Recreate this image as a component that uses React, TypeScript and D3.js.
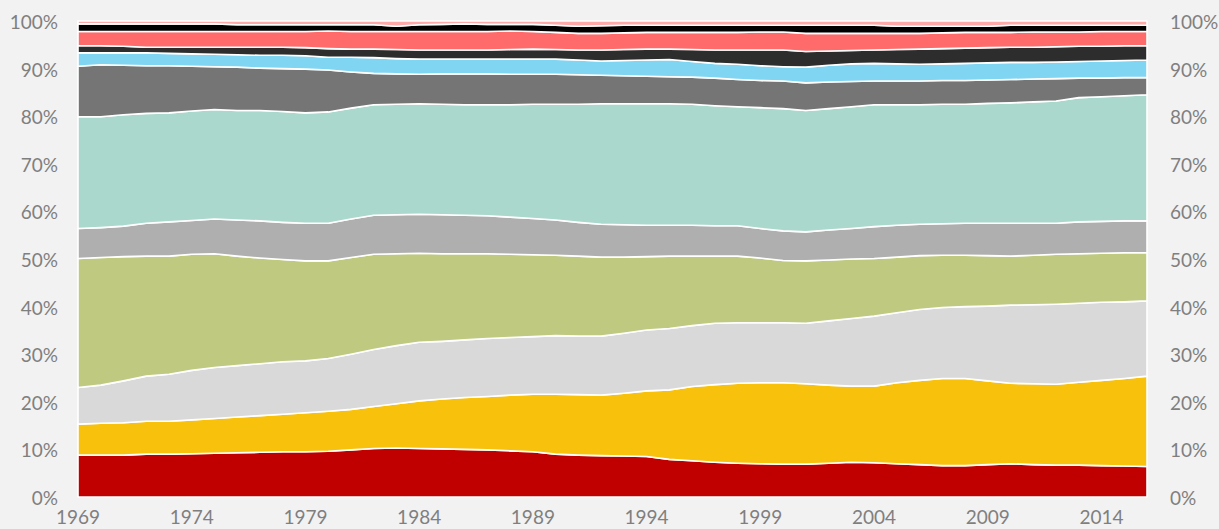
import React from "react";
import * as d3 from "d3";

const years: number[] = d3.range(1969, 2017);

const seriesRed = [8.8,8.8,8.8,9.0,9.0,9.1,9.2,9.3,9.4,9.5,9.5,9.6,9.9,10.2,10.3,10.2,10.1,10.0,9.9,9.7,9.5,9.0,8.8,8.7,8.6,8.5,7.9,7.6,7.3,7.1,7.0,6.9,6.9,7.1,7.3,7.2,7.0,6.8,6.6,6.6,6.8,7.0,6.8,6.7,6.7,6.6,6.5,6.4];
const seriesYellow = [6.5,6.7,6.8,6.9,6.9,7.1,7.3,7.5,7.7,7.9,8.2,8.4,8.5,8.8,9.3,10.0,10.5,10.9,11.2,11.7,12.1,12.6,12.7,12.7,13.2,13.8,14.6,15.6,16.3,16.8,17.0,17.1,16.9,16.4,16.0,16.1,17.0,17.7,18.3,18.3,17.6,16.9,17.0,17.0,17.4,17.9,18.4,19.0];
const seriesLightGray = [7.7,8.0,8.8,9.5,9.9,10.4,10.7,10.8,10.9,11.0,10.9,11.1,11.6,12.0,12.2,12.3,12.1,12.1,12.2,12.1,12.1,12.3,12.3,12.4,12.6,12.8,12.9,12.8,12.9,12.7,12.6,12.6,12.7,13.5,14.2,14.7,14.7,14.9,14.9,15.1,15.7,16.4,16.6,16.8,16.6,16.4,16.1,15.8];
const seriesGreen = [27.1,26.8,26.1,25.2,24.8,24.4,23.9,23.0,22.2,21.5,21.0,20.5,20.3,20.0,19.3,18.7,18.4,18.1,17.8,17.5,17.2,16.9,16.8,16.6,16.0,15.4,15.2,14.6,14.1,14.0,13.6,13.1,13.1,12.8,12.5,12.1,11.7,11.3,11.0,10.8,10.6,10.3,10.4,10.5,10.4,10.3,10.3,10.1];
const seriesGray = [6.3,6.3,6.4,6.9,7.2,7.1,7.3,7.6,7.8,7.8,7.9,7.9,8.1,8.2,8.2,8.2,8.2,8.1,8.0,7.8,7.6,7.4,7.1,6.9,6.8,6.6,6.5,6.5,6.4,6.4,6.2,6.2,6.1,6.3,6.4,6.7,6.7,6.6,6.6,6.7,6.8,6.9,6.7,6.5,6.7,6.7,6.7,6.7];
const seriesTeal = [23.5,23.3,23.4,23.1,22.9,23.0,23.0,23.0,23.2,23.3,23.2,23.4,23.3,23.2,23.2,23.2,23.2,23.2,23.3,23.6,24.0,24.3,24.8,25.3,25.4,25.5,25.5,25.4,25.2,25.0,25.4,25.7,25.5,25.5,25.6,25.6,25.3,25.1,25.1,25.0,25.2,25.3,25.5,25.7,26.1,26.2,26.3,26.5];
const seriesDarkGray = [10.6,10.9,10.4,10.0,9.9,9.4,9.0,9.1,8.9,9.0,9.2,8.8,7.6,6.6,6.4,6.2,6.4,6.5,6.5,6.4,6.3,6.3,6.2,6.0,5.9,5.8,5.7,5.7,5.8,5.7,5.7,5.8,5.8,5.6,5.3,5.0,5.0,5.0,5.0,5.0,4.9,4.9,4.8,4.7,4.1,3.9,3.8,3.6];
const seriesLightBlue = [2.8,2.5,2.6,2.7,2.6,2.6,2.6,2.6,2.7,2.8,2.8,2.7,3.1,3.3,3.2,3.2,3.1,3.1,3.1,3.2,3.2,3.2,3.1,3.0,3.2,3.4,3.6,3.3,3.1,3.2,3.1,3.0,3.3,3.5,3.7,3.7,3.6,3.5,3.5,3.6,3.6,3.6,3.5,3.5,3.5,3.6,3.6,3.7];
const seriesCharcoal = [1.5,1.5,1.4,1.2,1.3,1.4,1.5,1.6,1.7,1.7,1.7,1.8,1.7,1.8,1.9,1.9,1.9,1.9,1.9,2.0,2.1,2.0,2.1,2.3,2.3,2.3,2.2,2.5,2.8,3.0,3.3,3.5,3.3,3.0,2.8,2.8,3.0,3.2,3.2,3.2,3.2,3.2,3.2,3.2,3.2,3.1,3.1,3.0];
const seriesSalmon = [3.0,3.0,3.1,3.3,3.3,3.3,3.3,3.3,3.3,3.3,3.4,3.7,3.7,3.7,3.8,3.9,3.9,3.9,3.9,3.9,3.7,3.6,3.5,3.5,3.5,3.5,3.5,3.6,3.7,3.7,3.8,3.8,3.8,3.7,3.6,3.5,3.4,3.3,3.3,3.3,3.2,3.1,3.2,3.1,3.0,3.1,3.0,3.0];
const seriesBlack = [1.6,1.6,1.6,1.6,1.6,1.6,1.6,1.4,1.4,1.4,1.4,1.3,1.4,1.4,1.1,1.4,1.5,1.6,1.5,1.4,1.5,1.5,1.5,1.6,1.6,1.5,1.5,1.5,1.5,1.5,1.4,1.4,1.7,1.7,1.7,1.7,1.5,1.5,1.4,1.3,1.3,1.5,1.4,1.4,1.4,1.3,1.3,1.3];
const seriesPink = [0.6,0.6,0.6,0.6,0.6,0.6,0.6,0.8,0.8,0.8,0.8,0.8,0.8,0.8,1.1,0.8,0.7,0.6,0.7,0.7,0.7,0.9,1.1,1.0,0.9,0.9,0.9,0.9,0.9,0.9,0.9,0.9,0.9,0.9,0.9,0.9,1.1,1.1,1.1,1.1,1.1,0.9,0.9,0.9,0.9,0.9,0.9,0.9];

const seriesKeys = ["red","yellow","lightGray","green","gray","teal","darkGray","lightBlue","charcoal","salmon","black","pink"];
const seriesValues = [seriesRed, seriesYellow, seriesLightGray, seriesGreen, seriesGray, seriesTeal, seriesDarkGray, seriesLightBlue, seriesCharcoal, seriesSalmon, seriesBlack, seriesPink];
const seriesColors = ["#c00000","#f8c10b","#d9d9d9","#bfc980","#afafaf","#aad8cc","#757575","#80d5f3","#2d2d2d","#ff6b6b","#000000","#ffa9a9"];

const yTicks = [0,0.1,0.2,0.3,0.4,0.5,0.6,0.7,0.8,0.9,1];
const xTicks = [1969,1974,1979,1984,1989,1994,1999,2004,2009,2014];

export default function App() {
  const W = 1219, H = 529;
  const x = d3.scaleLinear().domain([1969, 2016]).range([78, 1147]);
  const y = d3.scaleLinear().domain([0, 1]).range([497, 21]);

  const table = years.map((yr, i) => {
    const row: any = { year: yr };
    seriesKeys.forEach((k, j) => { row[k] = seriesValues[j][i]; });
    return row;
  });
  const stack = d3.stack<any>().keys(seriesKeys).offset(d3.stackOffsetExpand);
  const layers = stack(table);
  const area = d3.area<any>()
    .x((d) => x(d.data.year))
    .y0((d) => y(d[0]))
    .y1((d) => y(d[1]));

  const fmt = d3.format(".0%");
  const font = "Lato, 'Open Sans', sans-serif";

  return (
    <>
      <style>{`body{margin:0;background:#f2f2f2;}`}</style>
      <svg width={W} height={H} style={{ display: "block", background: "#f2f2f2" }}>
        <g>
          {layers.map((layer, i) => (
            <path key={i} d={area(layer) || ""} fill={seriesColors[i]} stroke="#ffffff" strokeWidth={1.6} strokeLinejoin="round" />
          ))}
        </g>
        <g fill="#7f7f7f" fontFamily={font} fontSize={19}>
          {yTicks.map((t) => (
            <text key={"l" + t} x={58} y={y(t) + 8} textAnchor="end">{fmt(t)}</text>
          ))}
          {yTicks.map((t) => (
            <text key={"r" + t} x={1170} y={y(t) + 8} textAnchor="start">{fmt(t)}</text>
          ))}
          {xTicks.map((t) => (
            <text key={"x" + t} x={x(t)} y={524} textAnchor="middle">{t}</text>
          ))}
        </g>
      </svg>
    </>
  );
}
